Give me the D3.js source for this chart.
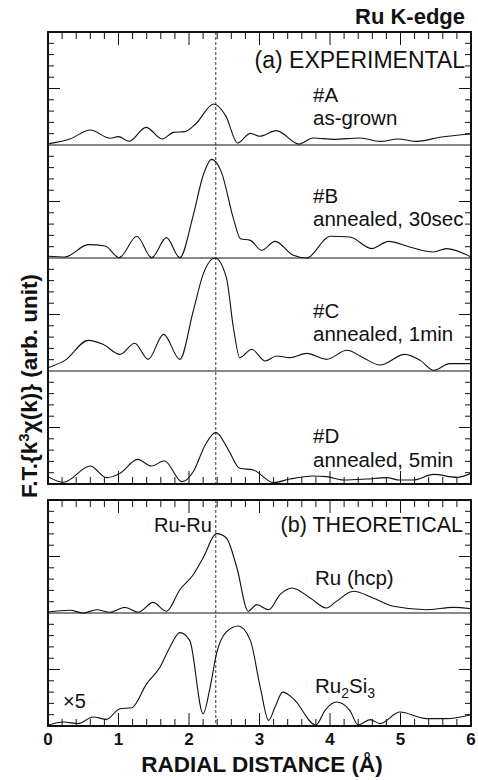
<!DOCTYPE html>
<html>
<head>
<meta charset="utf-8">
<script src="https://cdn.jsdelivr.net/npm/d3@7"></script>
<style>
  body { margin: 0; background: #fff; }
  text { font-family: "Liberation Sans", Arial, sans-serif; fill: #111; }
</style>
</head>
<body>
<div id="chart"></div>
<script>
// radial distance (Å) vs |FT| in tick units (10 ticks per sub-panel)
var curveA = [[0,0.1],[0.31,0.53],[0.6,1.33],[0.88,0.6],[1.0,0.74],[1.15,0.33],[1.39,1.56],[1.62,0.53],
  [1.78,1.12],[1.94,1.18],[2.1,1.9],[2.35,3.63],[2.52,2.6],[2.69,0.18],[2.87,1.03],[3.0,0.77],[3.24,1.27],
  [3.56,0.09],[3.76,0.62],[4.05,0.5],[4.43,0.62],[4.71,0.32],[4.97,0.53],[5.23,0.32],[5.56,0.68],[6.0,0.97]];
var curveB = [[0,0.15],[0.24,0.09],[0.57,1.18],[0.81,1.06],[1.01,0.03],[1.26,1.92],[1.47,0.03],[1.68,1.8],
  [1.87,0.03],[2.06,3.78],[2.2,7.3],[2.32,8.73],[2.46,7.6],[2.63,3.48],[2.73,1.71],[2.87,1.56],[3.03,0.68],
  [3.22,1.47],[3.48,0.24],[3.67,0],[4.0,1.92],[4.28,1.86],[4.59,0.83],[4.83,1.47],[5.13,0.97],[5.47,0.53],
  [5.65,0.83],[6.0,0.09]];
var curveC = [[0,0.29],[0.24,0.94],[0.57,2.71],[0.78,2.36],[1.02,1.47],[1.23,2.45],[1.42,1.03],[1.64,3.24],
  [1.87,1.03],[2.06,5.31],[2.2,8.55],[2.37,10],[2.53,8.26],[2.63,3.83],[2.72,1.18],[2.89,1.92],[3.08,0.88],
  [3.24,1.33],[3.43,1.18],[3.67,1.56],[3.95,1.03],[4.24,1.83],[4.47,1.18],[4.71,0.53],[5.06,1.47],[5.28,0.94],
  [5.47,0.06],[5.7,0.65],[6.0,0.65]];
var curveD = [[0,0.65],[0.22,0.15],[0.6,1.59],[0.83,0.56],[1.02,0.94],[1.27,2.18],[1.47,1.59],[1.65,2.06],
  [1.9,0.21],[2.06,1.09],[2.23,3.45],[2.38,4.57],[2.56,3.0],[2.72,1.39],[2.91,1.24],[3.2,0.12],[3.43,0.44],
  [3.76,0.71],[3.95,0.65],[4.19,0.35],[4.52,0.44],[4.8,0.56],[4.99,0.35],[5.18,0.35],[5.47,0.85],[5.8,0.59],
  [6.0,0.94]];
var curveRu = [[0,0.09],[0.31,0.24],[0.5,0],[0.69,0.29],[0.88,0.06],[1.09,0.5],[1.28,0.06],[1.49,0.94],
  [1.68,0.15],[1.87,2.06],[2.06,3.39],[2.2,4.87],[2.39,7.02],[2.53,6.64],[2.68,3.98],[2.84,0.15],[2.96,0.74],
  [3.13,0.29],[3.29,1.62],[3.46,2.21],[3.72,1.33],[3.95,0.44],[4.09,1.03],[4.33,1.92],[4.61,1.33],[4.9,0.59],
  [5.37,0.29],[5.75,0.5],[6.0,0.38]];
var curveRuSi = [[0,0.06],[0.22,0.35],[0.43,0.21],[0.64,0.8],[0.83,0.59],[1.02,1.53],[1.19,1.62],[1.4,3.75],
  [1.59,5.22],[1.73,6.99],[1.87,8.26],[2.01,7.58],[2.2,1.09],[2.3,3.45],[2.39,6.4],[2.53,8.32],[2.7,8.85],
  [2.87,7.58],[3.01,3.45],[3.13,0.5],[3.22,1.68],[3.33,3.0],[3.48,2.42],[3.8,0.09],[3.93,1.39],[4.09,2.12],
  [4.28,1.39],[4.4,0.09],[4.57,0.56],[4.71,0.21],[4.99,1.24],[5.37,0.65],[5.65,0.65],[6.0,1.0]];

var xTickLabels = [0, 1, 2, 3, 4, 5, 6];
var ruRuDistance = 2.38;

var width = 478, height = 780;
var x = d3.scaleLinear().domain([0, 6]).range([48, 471]);

var panels = [
  { top: 32, rows: 4 },
  { top: 500, rows: 2 }
];
var rowH = 113;

var rows = [
  { panel: 0, row: 0, data: curveA, labels: [["#A", 313, 102], ["as-grown", 313, 125]] },
  { panel: 0, row: 1, data: curveB, labels: [["#B", 313, 203], ["annealed, 30sec", 313, 226]] },
  { panel: 0, row: 2, data: curveC, labels: [["#C", 313, 318], ["annealed, 1min", 313, 341]] },
  { panel: 0, row: 3, data: curveD, labels: [["#D", 313, 443], ["annealed, 5min", 313, 467]] },
  { panel: 1, row: 0, data: curveRu, labels: [["Ru (hcp)", 315, 585]] },
  { panel: 1, row: 1, data: curveRuSi, labels: [] }
];

var svg = d3.select("#chart").append("svg")
  .attr("width", width)
  .attr("height", height);

panels.forEach(function(p, i) {
  p.bottom = p.top + rowH * p.rows;
  var g = svg.append("g");

  // x ticks (inside) top and bottom
  var xt = d3.range(0, 6.001, 0.2);
  xt.forEach(function(t) {
    var major = Math.abs(t - Math.round(t)) < 1e-6;
    var len = major ? 13 : 7;
    g.append("line").attr("x1", x(t)).attr("x2", x(t))
      .attr("y1", p.top).attr("y2", p.top + len)
      .attr("stroke", "#111").attr("stroke-width", 1);
    g.append("line").attr("x1", x(t)).attr("x2", x(t))
      .attr("y1", p.bottom).attr("y2", p.bottom - len)
      .attr("stroke", "#111").attr("stroke-width", 1);
  });

  // y ticks per row, left and right
  for (var r = 0; r < p.rows; r++) {
    var y = d3.scaleLinear().domain([0, 10]).range([p.top + (r + 1) * rowH, p.top + r * rowH]);
    d3.range(1, 10).forEach(function(t) {
      var len = t === 5 ? 12 : 6;
      g.append("line").attr("x1", x(0)).attr("x2", x(0) + len)
        .attr("y1", y(t)).attr("y2", y(t)).attr("stroke", "#111").attr("stroke-width", 1);
      g.append("line").attr("x1", x(6)).attr("x2", x(6) - len)
        .attr("y1", y(t)).attr("y2", y(t)).attr("stroke", "#111").attr("stroke-width", 1);
    });
    if (r > 0) {
      g.append("line").attr("x1", x(0)).attr("x2", x(6))
        .attr("y1", y(10)).attr("y2", y(10)).attr("stroke", "#111").attr("stroke-width", 1.2);
    }
  }

  // dashed Ru-Ru line
  g.append("line")
    .attr("x1", x(ruRuDistance)).attr("x2", x(ruRuDistance))
    .attr("y1", p.top).attr("y2", p.bottom)
    .attr("stroke", "#333").attr("stroke-width", 1)
    .attr("stroke-dasharray", "3,2");

  // clip
  svg.append("clipPath").attr("id", "clip" + i)
    .append("rect").attr("x", x(0)).attr("y", p.top)
    .attr("width", x(6) - x(0)).attr("height", p.bottom - p.top);

  p.g = g;
});

rows.forEach(function(rw) {
  var p = panels[rw.panel];
  var y = d3.scaleLinear().domain([0, 10])
    .range([p.top + (rw.row + 1) * rowH, p.top + rw.row * rowH]);
  var line = d3.line()
    .x(function(d) { return x(d[0]); })
    .y(function(d) { return y(Math.max(0, d[1])); })
    .curve(d3.curveMonotoneX);
  svg.append("path")
    .datum(rw.data)
    .attr("clip-path", "url(#clip" + rw.panel + ")")
    .attr("d", line)
    .attr("fill", "none")
    .attr("stroke", "#111")
    .attr("stroke-width", 1.1);
  rw.labels.forEach(function(l) {
    svg.append("text").attr("x", l[1]).attr("y", l[2])
      .style("font-size", "20.5px").text(l[0]);
  });
});

// frames
panels.forEach(function(p) {
  svg.append("rect")
    .attr("x", x(0)).attr("y", p.top)
    .attr("width", x(6) - x(0)).attr("height", p.bottom - p.top)
    .attr("fill", "none").attr("stroke", "#111").attr("stroke-width", 2);
});

// texts
svg.append("text").attr("x", 465).attr("y", 24)
  .attr("text-anchor", "end")
  .style("font-size", "22px").style("font-weight", "bold")
  .text("Ru K-edge");

svg.append("text").attr("x", 465).attr("y", 68)
  .attr("text-anchor", "end")
  .style("font-size", "23px")
  .text("(a) EXPERIMENTAL");

svg.append("text").attr("x", 463).attr("y", 532)
  .attr("text-anchor", "end")
  .style("font-size", "21.5px")
  .text("(b) THEORETICAL");

svg.append("text").attr("x", 154).attr("y", 532)
  .style("font-size", "20px")
  .text("Ru-Ru");

var rs = svg.append("text").attr("x", 315).attr("y", 693).style("font-size", "20.5px");
rs.append("tspan").text("Ru");
rs.append("tspan").attr("dy", 5).style("font-size", "14px").text("2");
rs.append("tspan").attr("dy", -5).text("Si");
rs.append("tspan").attr("dy", 5).style("font-size", "14px").text("3");

svg.append("text").attr("x", 63).attr("y", 708)
  .style("font-size", "20px")
  .text("×5");

// x tick labels
svg.selectAll(".xlab")
  .data(xTickLabels)
  .enter().append("text")
  .attr("class", "xlab")
  .attr("x", function(d) { return x(d); })
  .attr("y", 745)
  .attr("text-anchor", "middle")
  .style("font-size", "17px")
  .style("font-weight", "bold")
  .text(function(d) { return d; });

svg.append("text").attr("x", 262).attr("y", 772)
  .attr("text-anchor", "middle")
  .style("font-size", "22.5px").style("font-weight", "bold")
  .text("RADIAL DISTANCE (Å)");

// y axis title
var yt = svg.append("text")
  .attr("transform", "translate(37,386) rotate(-90)")
  .attr("text-anchor", "middle")
  .style("font-size", "22.5px").style("font-weight", "bold");
yt.append("tspan").text("F.T.{k");
yt.append("tspan").attr("dy", -8).style("font-size", "15px").text("3");
yt.append("tspan").attr("dy", 8).text("χ(k)} (arb. unit)");
</script>
</body>
</html>
